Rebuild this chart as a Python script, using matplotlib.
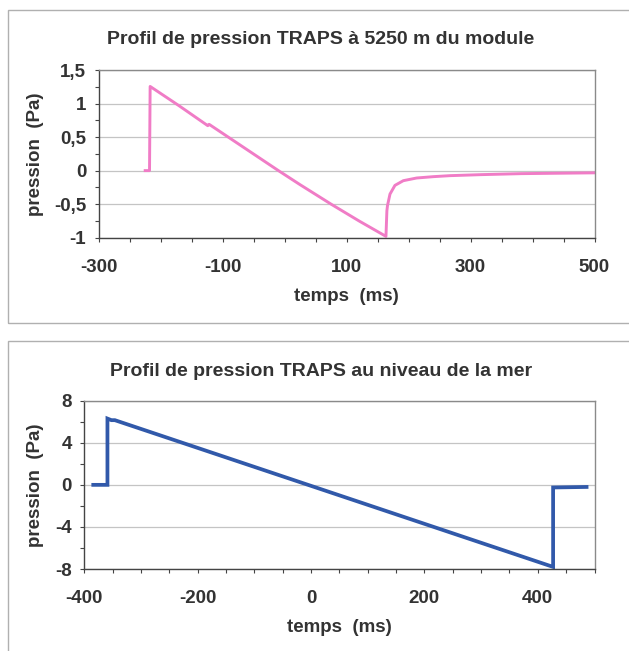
import matplotlib
matplotlib.use("Agg")
import matplotlib.pyplot as plt
from matplotlib.patches import Rectangle
from matplotlib.ticker import MultipleLocator, FixedLocator, FixedFormatter

# ---------------- data ----------------
title_top = "Profil de pression TRAPS à 5250 m du module"
title_bot = "Profil de pression TRAPS au niveau de la mer"
xlabel = "temps  (ms)"
ylabel = "pression  (Pa)"

t_5250 = [-225, -218, -217, -170, -124, -122, -121, -10, 25, 75, 120, 163.5,
          165, 166, 170, 178, 191.5, 213, 240, 267, 317, 382, 500]
p_5250 = [0, 0, 1.255, 0.965, 0.67, 0.69, 0.685, 0.0, -0.21, -0.5, -0.75, -0.98,
          -0.6, -0.52, -0.35, -0.22, -0.15, -0.11, -0.09, -0.075, -0.06, -0.045, -0.033]

t_mer = [-384, -359, -359, -352, -346, 427, 427, 486]
p_mer = [0, 0, 6.3, 6.15, 6.15, -7.8, -0.25, -0.2]

top_xticks = [-300, -100, 100, 300, 500]
top_xticklabels = ["-300", "-100", "100", "300", "500"]
top_yticks = [-1, -0.5, 0, 0.5, 1, 1.5]
top_yticklabels = ["-1", "-0,5", "0", "0,5", "1", "1,5"]

bot_xticks = [-400, -200, 0, 200, 400]
bot_xticklabels = ["-400", "-200", "0", "200", "400"]
bot_yticks = [-8, -4, 0, 4, 8]
bot_yticklabels = ["-8", "-4", "0", "4", "8"]

# ---------------- style ----------------
plt.rcParams['font.family'] = ['Liberation Sans', 'DejaVu Sans']
plt.rcParams['font.weight'] = 'bold'
TXT = '#333333'

W, H = 629, 651
fig = plt.figure(figsize=(W / 100, H / 100), dpi=100)
fig.patch.set_facecolor('white')

def px(x0, y0, x1, y1):
    return [x0 / W, 1 - y1 / H, (x1 - x0) / W, (y1 - y0) / H]

# outer frames
fig.patches.append(Rectangle((8 / W, 1 - 323 / H), 1.2, (323 - 10) / H,
                             transform=fig.transFigure, fill=False,
                             edgecolor='#b0b0b0', lw=1.0))
fig.patches.append(Rectangle((8 / W, -0.2), 1.2, 0.2 + 1 - 341 / H,
                             transform=fig.transFigure, fill=False,
                             edgecolor='#b0b0b0', lw=1.0))

def style(ax, xlim, ylim, xt, xtl, yt, ytl, xminor, yminor, ylabx, xlaby):
    ax.set_xlim(*xlim)
    ax.set_ylim(*ylim)
    ax.xaxis.set_major_locator(FixedLocator(xt))
    ax.xaxis.set_major_formatter(FixedFormatter(xtl))
    ax.yaxis.set_major_locator(FixedLocator(yt))
    ax.yaxis.set_major_formatter(FixedFormatter(ytl))
    ax.xaxis.set_minor_locator(MultipleLocator(xminor))
    ax.yaxis.set_minor_locator(MultipleLocator(yminor))
    ax.tick_params(axis='both', which='both', direction='out', length=3,
                   width=0.8, color='#444444')
    ax.tick_params(axis='x', which='major', labelsize=13.5, labelcolor=TXT, pad=12)
    ax.tick_params(axis='y', which='major', labelsize=13.5, labelcolor=TXT, pad=6)
    ax.grid(axis='y', which='major', color='#c4c4c4', lw=0.9)
    ax.set_axisbelow(True)
    for s in ['left', 'bottom']:
        ax.spines[s].set_color('#444444')
        ax.spines[s].set_linewidth(1.0)
    for s in ['top', 'right']:
        ax.spines[s].set_color('#8a8a8a')
        ax.spines[s].set_linewidth(1.0)
    ax.set_xlabel(xlabel, fontsize=13.5, fontweight='bold', color=TXT)
    ax.set_ylabel(ylabel, fontsize=13.5, fontweight='bold', color=TXT)
    ax.yaxis.set_label_coords(ylabx, 0.5)
    ax.xaxis.set_label_coords(0.5, xlaby)

# top chart
ax1 = fig.add_axes(px(98.7, 70, 594.5, 237.7))
ax1.plot(t_5250, p_5250, color='#f07cc6', lw=2.1, solid_joinstyle='round')
style(ax1, (-300, 500), (-1, 1.5), top_xticks, top_xticklabels,
      top_yticks, top_yticklabels, 50, 0.25, -0.11, -0.30)

# bottom chart
ax2 = fig.add_axes(px(84.2, 400.7, 594.5, 569))
ax2.plot(t_mer, p_mer, color='#3159aa', lw=2.7, solid_joinstyle='miter')
style(ax2, (-400, 500), (-8, 8), bot_xticks, bot_xticklabels,
      bot_yticks, bot_yticklabels, 50, 2, -0.079, -0.30)

fig.text(321 / W, 1 - 40 / H, title_top, ha='center', va='center',
         fontsize=14, fontweight='bold', color=TXT)
fig.text(321 / W, 1 - 371.7 / H, title_bot, ha='center', va='center',
         fontsize=14, fontweight='bold', color=TXT)

fig.savefig('out.png', dpi=100, facecolor='white')
